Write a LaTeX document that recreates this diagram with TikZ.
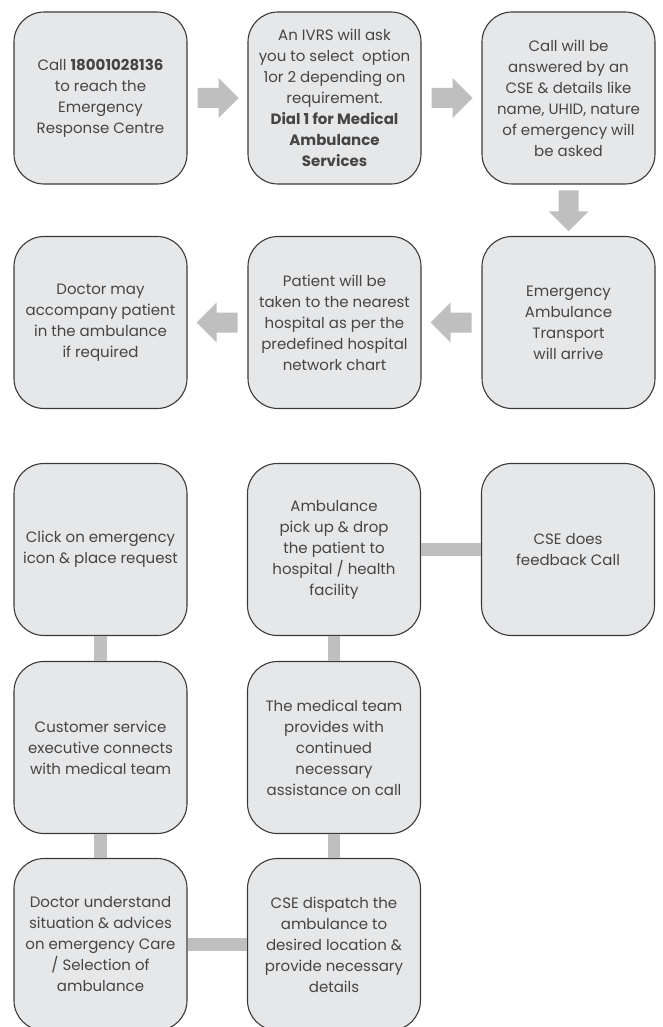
\documentclass[tikz,border=0pt]{standalone}
\usepackage{fontspec}
\setmainfont{Poppins}
\usetikzlibrary{calc}
\definecolor{boxfill}{HTML}{E6E7E9}
\definecolor{boxline}{HTML}{3A3A3A}
\definecolor{txt}{HTML}{454545}
\definecolor{agray}{HTML}{BFBFBF}
\tikzset{
  box/.style={draw=boxline, line width=1.1pt, fill=boxfill, rounded corners=30pt,
    minimum width=173pt, minimum height=172pt, inner sep=0pt, align=center,
    text=txt, font=\fontsize{15}{21}\selectfont},
  conn/.style={draw=agray, line width=12.5pt},
  barrow/.pic={\fill[agray] (-20,-10) -- (1,-10) -- (1,-20) -- (21,0) -- (1,20) -- (1,10) -- (-20,10) -- cycle;}
}
\begin{document}
\begin{tikzpicture}[x=1pt,y=-1pt]
\useasboundingbox (0,0) rectangle (662,1027);
\clip (0,0) rectangle (662,1027);
% row 1
\node[box] (n1) at (100.5,98) {Call \textbf{18001028136}\\to reach the\\Emergency\\Response Centre};
\node[box] (n2) at (334.5,98) {An IVRS will ask\\you to select\ \ option\\1or 2 depending on\\requirement.\\\textbf{Dial 1 for Medical}\\\textbf{Ambulance}\\\textbf{Services}};
\node[box] (n3) at (568.5,98) {Call will be\\answered by an\\CSE \& details like\\name, UHID, nature\\of emergency will\\be asked};
% row 2
\node[box] (n4) at (568.5,322.5) {Emergency\\Ambulance\\Transport\\will arrive};
\node[box] (n5) at (334.5,322.5) {Patient will be\\taken to the nearest\\hospital as per the\\predefined hospital\\network chart};
\node[box] (n6) at (100.5,322.5) {Doctor may\\accompany patient\\in the ambulance\\if required};
% arrows
\path ($(n1.east)!0.5!(n2.west)$) pic{barrow};
\path ($(n2.east)!0.5!(n3.west)$) pic{barrow};
\path ($(n3.south)!0.5!(n4.north)$) pic[rotate=-90]{barrow};
\path ($(n4.west)!0.5!(n5.east)$) pic[rotate=180]{barrow};
\path ($(n5.west)!0.5!(n6.east)$) pic[rotate=180]{barrow};
% lower section
\node[box] (n7) at (100.5,549.5) {Click on emergency\\icon \& place request};
\node[box] (n8) at (334,549.5) {Ambulance\\pick up \& drop\\the patient to\\hospital / health\\facility};
\node[box] (n9) at (568,549.5) {CSE does\\feedback Call};
\node[box] (n10) at (100.5,747.5) {Customer service\\executive connects\\with medical team};
\node[box] (n11) at (334,747.5) {The medical team\\provides with\\continued\\necessary\\assistance on call};
\node[box] (n12) at (100.5,944.5) {Doctor understand\\situation \& advices\\on emergency Care\\/ Selection of\\ambulance};
\node[box] (n13) at (334,944.5) {CSE dispatch the\\ambulance to\\desired location \&\\provide necessary\\details};
% connectors
\draw[conn] (n8.east) -- (n9.west);
\draw[conn] (n7.south) -- (n10.north);
\draw[conn] (n10.south) -- (n12.north);
\draw[conn] (n8.south) -- (n11.north);
\draw[conn] (n11.south) -- (n13.north);
\draw[conn] (n12.east) -- (n13.west);
\end{tikzpicture}
\end{document}
